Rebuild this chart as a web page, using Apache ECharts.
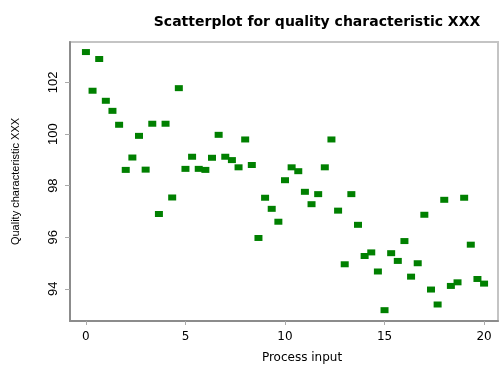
<!DOCTYPE html>
<html>
<head>
<meta charset="utf-8">
<script src="https://cdn.jsdelivr.net/npm/echarts@6/dist/echarts.min.js"></script>
<style>
  html, body { margin: 0; padding: 0; background: #fff; }
  #chart { width: 501px; height: 369px; }
</style>
</head>
<body>
<div id="chart"></div>
<script>
// process input runs in steps of 1/3 from 0 to 20
var xValues = [];
for (var k = 0; k <= 60; k++) {
    xValues.push(+(k / 3).toFixed(3));
}
// quality characteristic, one per x step
var yValues = [
    103.18, 101.68, 102.91, 101.29, 100.9, 100.36, 98.61, 99.09, 99.93, 98.62,
    100.4, 96.9, 100.4, 97.54, 101.78, 98.65, 99.12, 98.65, 98.61, 99.08,
    99.97, 99.12, 98.99, 98.71, 99.79, 98.8, 95.97, 97.53, 97.1, 96.6,
    98.21, 98.71, 98.56, 97.76, 97.28, 97.67, 98.71, 99.79, 97.03, 94.95,
    97.67, 96.48, 95.27, 95.41, 94.67, 93.17, 95.38, 95.08, 95.85, 94.47,
    94.99, 96.87, 93.97, 93.39, 97.45, 94.11, 94.25, 97.53, 95.71, 94.38,
    94.2
];
var xTicks = [0, 5, 10, 15, 20];
var yTicks = [94, 96, 98, 100, 102];

var points = xValues.map(function (x, i) { return [x, yValues[i]]; });

var chart = echarts.init(document.getElementById('chart'));
var option = {
    animation: false,
    title: {
        text: 'Scatterplot for quality characteristic XXX',
        left: 312,
        top: 10,
        textAlign: 'center',
        textStyle: {
            fontFamily: 'DejaVu Sans',
            fontWeight: 'bold',
            fontSize: 14,
            color: '#000'
        }
    },
    grid: {
        left: 70,
        top: 42,
        right: 3,
        bottom: 43,
        show: true,
        borderColor: '#c4c4c4',
        borderWidth: 2
    },
    xAxis: {
        type: 'value',
        min: -0.8,
        max: 20.7,
        name: 'Process input',
        nameLocation: 'middle',
        nameGap: 31,
        nameTextStyle: { fontFamily: 'DejaVu Sans', fontSize: 12, color: '#000', padding: [0, 0, 0, 36] },
        splitLine: { show: false },
        axisLine: { onZero: false, lineStyle: { color: '#8c8c8c', width: 2 } },
        axisTick: { customValues: xTicks, length: 4, lineStyle: { color: '#aaa' } },
        axisLabel: {
            customValues: xTicks,
            fontFamily: 'DejaVu Sans',
            fontSize: 12,
            color: '#000',
            margin: 10
        }
    },
    yAxis: {
        type: 'value',
        min: 92.75,
        max: 103.57,
        name: 'Quality characteristic XXX',
        nameLocation: 'middle',
        nameGap: 49,
        nameTextStyle: { fontFamily: 'Liberation Sans Narrow, Liberation Sans', fontSize: 11, color: '#000' },
        splitLine: { show: false },
        axisLine: { onZero: false, lineStyle: { color: '#8c8c8c', width: 2 } },
        axisTick: { customValues: yTicks, length: 5, lineStyle: { color: '#aaa' } },
        axisLabel: {
            customValues: yTicks,
            rotate: 90,
            fontFamily: 'Liberation Sans Narrow, Liberation Sans',
            fontSize: 13,
            color: '#000',
            margin: 10
        }
    },
    series: [{
        type: 'scatter',
        data: points,
        symbol: 'rect',
        symbolSize: [8, 6],
        itemStyle: { color: '#008000', opacity: 1 }
    }]
};
chart.setOption(option);
</script>
</body>
</html>
